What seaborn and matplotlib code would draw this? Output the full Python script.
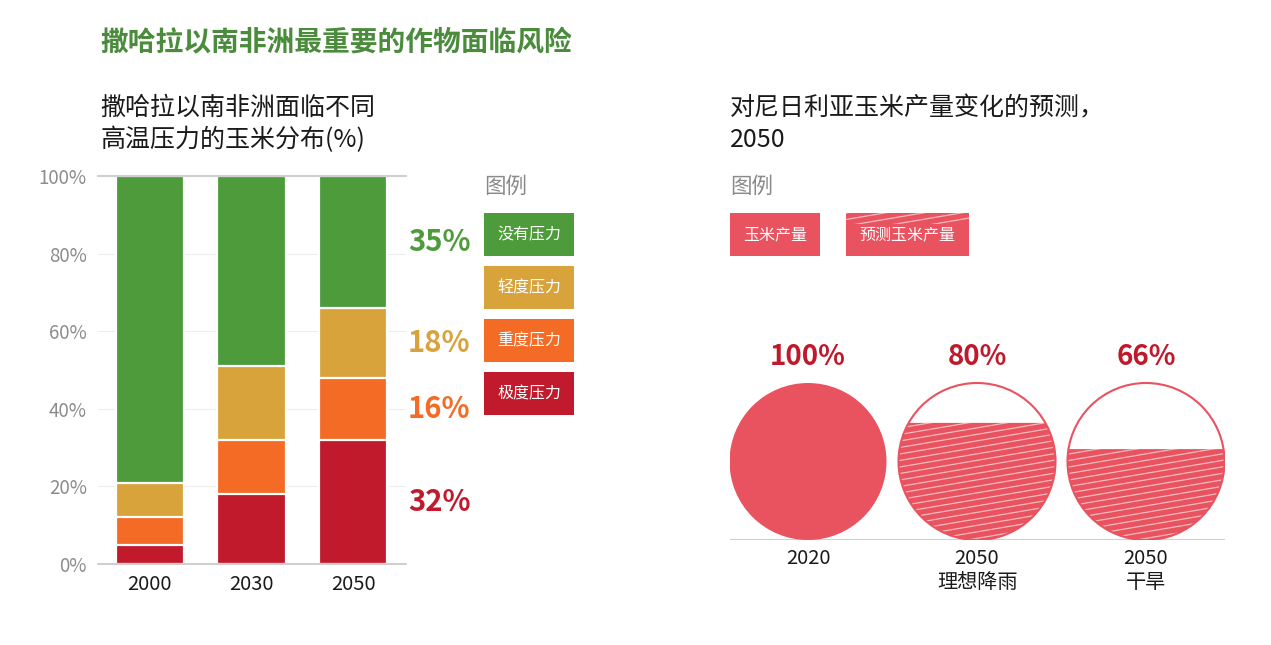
import numpy as np
import pandas as pd
import matplotlib.pyplot as plt
from matplotlib.patches import Circle, Polygon, Rectangle
from matplotlib.transforms import blended_transform_factory
import seaborn as sns

# left panel: share of maize area by heat stress (%)
years = ["2000", "2030", "2050"]
stress_levels = ["极度压力", "重度压力", "轻度压力", "没有压力"]
extreme = [5, 18, 32]
severe = [7, 14, 16]
mild = [9, 19, 18]
no_stress = [79, 49, 34]
labels_2050 = ["32%", "16%", "18%", "35%"]
stress_colors = ["#c11a2c", "#f46b25", "#d9a33c", "#4d9b3a"]

# right panel: Nigeria maize yield projection
scenarios = ["2020", "2050\n理想降雨", "2050\n干旱"]
yield_labels = ["100%", "80%", "66%"]
fill_share = [1.0, 0.80, 0.60]  # filled area as drawn in the source graphic
projected = [False, True, True]

pink = "#e9525f"
dark_red = "#c0192c"

sns.set_theme(style="white")
plt.rcParams["font.family"] = ["Noto Sans CJK SC", "DejaVu Sans"]

W, H = 1271, 645
fig = plt.figure(figsize=(W / 100, H / 100), dpi=100)


def px_axes(x0, y0, x1, y1):
    return fig.add_axes([x0 / W, 1 - y1 / H, (x1 - x0) / W, (y1 - y0) / H])


# overlay for titles / legends, in pixel coords
ov = px_axes(0, 0, W, H)
ov.set_xlim(0, W)
ov.set_ylim(H, 0)
ov.axis("off")

ov.text(100, 43, "撒哈拉以南非洲最重要的作物面临风险", fontsize=20, weight="bold",
        color="#4a8b3c", va="center", ha="left")
ov.text(100, 124, "撒哈拉以南非洲面临不同\n高温压力的玉米分布(%)", fontsize=18,
        color="#1a1a1a", va="center", ha="left", linespacing=1.3)
ov.text(730, 124, "对尼日利亚玉米产量变化的预测，\n2050", fontsize=18,
        color="#1a1a1a", va="center", ha="left", linespacing=1.3)

# left legend
ov.text(484, 187, "图例", fontsize=15.5, color="#8a8a8a", va="center", ha="left")
for i, (name, color) in enumerate(zip(stress_levels[::-1], stress_colors[::-1])):
    y0 = 213 + i * 53
    ov.add_patch(Rectangle((484, y0), 90, 43, color=color, lw=0))
    ov.text(484 + 45, y0 + 21.5, name, fontsize=11.5, color="white", ha="center", va="center")

# right legend
ov.text(730, 187, "图例", fontsize=15.5, color="#8a8a8a", va="center", ha="left")
ov.add_patch(Rectangle((730, 213), 90, 43, color=pink, lw=0))
ov.text(775, 234.5, "玉米产量", fontsize=11.5, color="white", ha="center", va="center")
ov.add_patch(Rectangle((846, 213), 123, 43, color=pink, lw=0))
strip = Rectangle((846, 213), 123, 11, transform=ov.transData)
for b in np.arange(213, 245, 6.5):
    ln, = ov.plot([846, 969], [b, b - 0.17 * 123], color="white", alpha=0.6, lw=0.9)
    ln.set_clip_path(strip)
ov.text(907.5, 234.5, "预测玉米产量", fontsize=11.5, color="white", ha="center", va="center")

# stacked bars
ax = px_axes(98, 176, 406, 564)
stack = np.cumsum([extreme, severe, mild, no_stress], axis=0)
df = pd.DataFrame(stack.T, columns=stress_levels)
df["year"] = years
for level, color in reversed(list(zip(stress_levels, stress_colors))):
    sns.barplot(data=df, x="year", y=level, order=years, color=color, saturation=1,
                width=0.67, edgecolor="white", linewidth=1.6, errorbar=None, ax=ax, zorder=2)

ax.set_xlim(-0.51, 2.52)
ax.set_ylim(0, 100)
ax.set_yticks(range(0, 101, 20))
ax.set_yticklabels([f"{v}%" for v in range(0, 101, 20)])
ax.set_xlabel("")
ax.set_ylabel("")
sns.despine(ax=ax, left=True, bottom=True)
ax.yaxis.grid(True, color="#ededed", lw=0.8)
ax.set_axisbelow(True)
for v in (0, 100):
    ax.axhline(v, color="#cfcfcf", lw=1.5, zorder=3, clip_on=False)
ax.tick_params(axis="y", length=0, pad=8, labelsize=13.5, labelcolor="#8c8c8c")
ax.tick_params(axis="x", length=0, pad=7, labelsize=14.5, labelcolor="#1a1a1a")

trans = blended_transform_factory(ax.transAxes, ax.transData)
mids = stack[:, 2] - np.array([extreme[2], severe[2], mild[2], no_stress[2]]) / 2
mids[-1] = (stack[2, 2] + 100) / 2
for lab, y, color in zip(labels_2050, mids, stress_colors):
    ax.text(1.006, y, lab, transform=trans, fontsize=21, weight="bold", color=color,
            ha="left", va="center")

# circles
unit = 169.0
r = 78.5 / unit
cax = px_axes(729.5, 340, 1224.5, 540)
cax.set_xlim(-r, 2 + r)
cax.set_ylim(0, 200 / unit)
sns.despine(ax=cax, left=True, bottom=True)
cax.set_yticks([])
cax.set_xticks(range(len(scenarios)))
cax.set_xticklabels(scenarios, linespacing=1.2)
cax.tick_params(axis="x", length=0, pad=5.5, labelsize=14.5, labelcolor="#1a1a1a")
cax.axhline(0, color="#d0d0d0", lw=1.5, zorder=1)


def fill_level(f):
    lo, hi = -1.0, 1.0
    for _ in range(60):
        c = (lo + hi) / 2
        below = (np.pi - (np.arccos(c) - c * np.sqrt(1 - c * c))) / np.pi
        if below < f:
            lo = c
        else:
            hi = c
    return (lo + hi) / 2


for i, (share, lab, proj) in enumerate(zip(fill_share, yield_labels, projected)):
    cx, cy = i, r
    if not proj:
        cax.add_patch(Circle((cx, cy), r, color=pink, lw=0, zorder=2))
    else:
        c = fill_level(share)
        th = np.linspace(np.pi - np.arcsin(c), 2 * np.pi + np.arcsin(c), 200)
        seg = Polygon(np.column_stack([cx + r * np.cos(th), cy + r * np.sin(th)]),
                      closed=True, color=pink, lw=0, zorder=2)
        cax.add_patch(seg)
        for b in np.arange(-0.3, 1.3, 6.5 / unit):
            ln, = cax.plot([cx - r, cx + r], [b, b + 0.17 * 2 * r], color="white",
                           alpha=0.6, lw=0.9, zorder=3)
            ln.set_clip_path(seg)
        cax.add_patch(Circle((cx, cy), r, fill=False, edgecolor=pink, lw=1.5, zorder=4))
    cax.text(cx, 2 * r + 26 / unit, lab, fontsize=20, weight="bold", color=dark_red,
             ha="center", va="center")

fig.savefig("out.png", dpi=100)
